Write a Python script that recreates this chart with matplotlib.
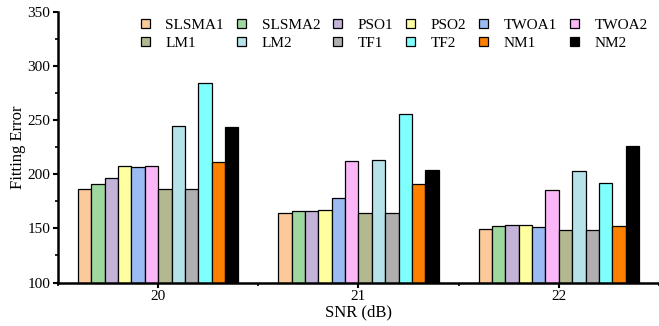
import numpy as np
import matplotlib.pyplot as plt
from matplotlib.ticker import MultipleLocator

plt.rcParams['font.family'] = ['Liberation Serif', 'DejaVu Serif']

snr = [20, 21, 22]
methods = ["SLSMA1", "SLSMA2", "PSO1", "PSO2", "TWOA1", "TWOA2",
           "LM1", "LM2", "TF1", "TF2", "NM1", "NM2"]
colors = ["#FBC99A", "#9FD89F", "#C4B3D8", "#FFFFA0", "#9BBBF3", "#FBB6F7",
          "#B2B890", "#B6E3E9", "#AFAFAF", "#80FFFF", "#FF8000", "#000000"]

# fitting error per method at SNR 20, 21, 22
SLSMA1 = [186.4, 164.5, 149.2]
SLSMA2 = [191.0, 165.8, 151.9]
PSO1 = [196.6, 165.8, 153.1]
PSO2 = [207.3, 166.7, 153.2]
TWOA1 = [207.0, 177.8, 151.0]
TWOA2 = [208.0, 212.6, 185.8]
LM1 = [186.2, 164.0, 148.5]
LM2 = [244.2, 213.2, 202.8]
TF1 = [186.2, 164.0, 148.5]
TF2 = [284.8, 256.0, 191.7]
NM1 = [211.0, 191.3, 152.5]
NM2 = [243.6, 204.3, 226.2]
values = [SLSMA1, SLSMA2, PSO1, PSO2, TWOA1, TWOA2,
          LM1, LM2, TF1, TF2, NM1, NM2]

fig = plt.figure(figsize=(6.59, 3.26), dpi=100)
ax = fig.add_axes([0.088, 0.1334, 0.912, 0.8298])

n = len(methods)
w = 0.8 / n
x = np.array(snr, dtype=float)
bars = []
for i in range(n):
    off = (i - (n - 1) / 2) * w
    b = ax.bar(x + off, values[i], w, bottom=0, color=colors[i],
               edgecolor="black", linewidth=0.9, label=methods[i])
    bars.append(b)

ax.set_xlim(19.5, 22.5)
ax.set_ylim(100, 350)
ax.set_xticks(snr)
ax.xaxis.set_minor_locator(MultipleLocator(0.5))
ax.yaxis.set_major_locator(MultipleLocator(50))
ax.yaxis.set_minor_locator(MultipleLocator(25))
ax.spines["top"].set_visible(False)
ax.spines["right"].set_visible(False)
ax.spines["left"].set_linewidth(1.8)
ax.spines["bottom"].set_linewidth(1.8)
ax.tick_params(axis="both", which="major", direction="out", length=3.5,
               width=1.5, labelsize=11, pad=2)
ax.tick_params(axis="both", which="minor", direction="out", length=2, width=1.2)
ax.set_xlabel("SNR (dB)", fontsize=12, labelpad=1)
ax.set_ylabel("Fitting Error", fontsize=12, labelpad=1)

# legend filled column-wise, reorder so rows read left to right
order = []
for c in range(6):
    order += [c, c + 6]
leg = ax.legend([bars[k] for k in order], [methods[k] for k in order],
                ncol=6, frameon=False, fontsize=11,
                loc="upper left", bbox_to_anchor=(0.128, 0.998),
                handlelength=0.6, handleheight=0.6, handletextpad=1.0,
                columnspacing=0.85, labelspacing=0.32, borderaxespad=0)

plt.savefig("out.png", dpi=100)
